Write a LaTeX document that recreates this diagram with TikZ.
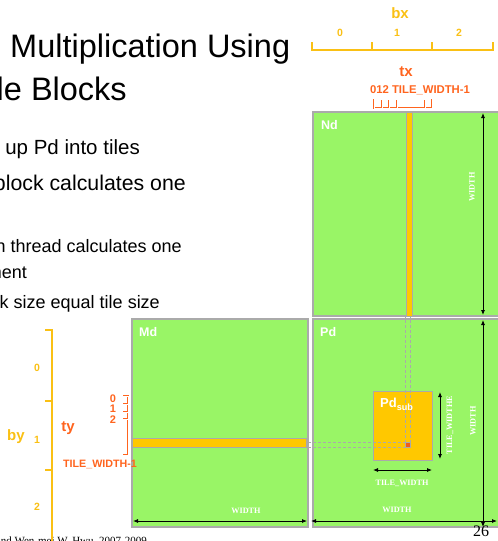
\documentclass[tikz,border=0pt]{standalone}
\usepackage{fontspec}
\setmainfont{Liberation Serif}
\setsansfont{Liberation Sans}
\usetikzlibrary{arrows.meta}

\definecolor{matgreen}{RGB}{153,245,102}
\definecolor{tileorange}{RGB}{255,200,0}
\definecolor{rulegold}{RGB}{250,192,20}
\definecolor{idxorange}{RGB}{255,100,30}
\definecolor{edgegray}{RGB}{170,170,170}
\definecolor{elemred}{RGB}{240,90,30}
\newcommand{\fsz}[1]{\fontsize{#1}{#1}\selectfont}

\tikzset{
  mat/.style={draw=edgegray, fill=matgreen, line width=1.2, inner sep=0, outer sep=0, anchor=north west},
  strip/.style={draw=edgegray, fill=tileorange, line width=0.8, inner sep=0, outer sep=0, anchor=north west},
  matname/.style={text=white, font=\sffamily\bfseries\fsz{12.5}, inner sep=0, anchor=north west},
  dimlabel/.style={text=white, font=\rmfamily\bfseries\fsz{8.2}, inner sep=0},
  dimarrow/.style={black, line width=0.8, {Latex[length=5pt,width=4pt]}-{Latex[length=5pt,width=4pt]}},
  guide/.style={draw=edgegray, dash pattern=on 3pt off 2pt, line width=0.6},
  goldrule/.style={draw=rulegold, line width=1.8},
  goldlabel/.style={text=rulegold, font=\sffamily\bfseries\fsz{10.5}, inner sep=0},
  orangerule/.style={draw=idxorange, line width=0.7, double=white, double distance=0.7},
  orangelabel/.style={text=idxorange, font=\sffamily\bfseries\fsz{11}, inner sep=0},
  bodytext/.style={font=\sffamily\fsz{20.5}, inner sep=0, anchor=base east},
  subtext/.style={font=\sffamily\fsz{18}, inner sep=0, anchor=base east},
}

\begin{document}
\begin{tikzpicture}[x=1pt, y=-1pt]
\useasboundingbox (0,0) rectangle (498,541);

% ---- slide title and bullets
\node[font=\sffamily\fsz{32.5}, inner sep=0, anchor=base west] (title1) at (10,57) {Multiplication Using};
\node[font=\sffamily\fsz{32.5}, inner sep=0, anchor=base east] (title2) at (127,100) {Multiple Blocks};
\node[bodytext] (b1) at (140,154) {Break up Pd into tiles};
\node[bodytext, font=\sffamily\fsz{21.3}] (b2) at (186,190) {block calculates one};
\node[subtext] (s1) at (182,252) {Each thread calculates one};
\node[subtext] (s2) at (27,278) {element};
\node[subtext] (s3) at (160,308) {Block size equal tile size};
\node[font=\rmfamily\fsz{11}, inner sep=0, anchor=base east] (credit) at (147,544) {and Wen-mei W. Hwu, 2007-2009};

% ---- the three matrices
\node[mat, minimum width=186, minimum height=204] (Nd) at (313,112) {};
\node[mat, minimum width=176, minimum height=208] (Md) at (132,319) {};
\node[mat, minimum width=186, minimum height=208] (Pd) at (313,319) {};

% ---- row strip, column strip, output tile and element
\node[strip, minimum width=5.5, minimum height=204] (Ncol) at (406.5,112) {};
\node[strip, minimum width=174, minimum height=9] (Mrow) at (132,438) {};
\node[strip, minimum width=59, minimum height=69] (Psub) at (373,391) {};
\node[draw=edgegray, fill=elemred, line width=0.5, inner sep=0, outer sep=0, anchor=north west,
      minimum width=5, minimum height=5] (elem) at (405.5,442.5) {};

% ---- guide lines from the element back to its row and column
\draw[guide] (elem.north west) -- (elem.north west |- Ncol.south);
\draw[guide] (elem.north east) -- (elem.north east |- Ncol.south);
\draw[guide] (elem.north west) -- (elem.north west -| Mrow.east);
\draw[guide] (elem.south west) -- (elem.south west -| Mrow.east);

% ---- matrix names
\node[matname] (Ndname) at (321,120) {Nd};
\node[matname] (Mdname) at (139,327) {Md};
\node[matname] (Pdname) at (320,327) {Pd};
\node[text=white, font=\sffamily\bfseries\fsz{13}, inner sep=0, anchor=north west] (Psubname) at (380,398) {Pd\textsubscript{sub}};

% ---- dimension arrows
\coordinate (ndTop) at (483,113);   \coordinate (ndBot) at (483,315);
\coordinate (pdTop) at (483,320);   \coordinate (pdBot) at (483,527);
\coordinate (pdL)   at (311,521);   \coordinate (pdR)   at (497,521);
\coordinate (mdL)   at (133,521);   \coordinate (mdR)   at (307,521);
\coordinate (tvTop) at (440,392);   \coordinate (tvBot) at (440,459);
\coordinate (thL)   at (373,470);   \coordinate (thR)   at (432,470);
\draw[dimarrow] (ndTop) -- (ndBot);
\draw[dimarrow] (pdTop) -- (pdBot);
\draw[dimarrow] (pdL) -- (pdR);
\draw[dimarrow] (mdL) -- (mdR);
\draw[dimarrow] (tvTop) -- (tvBot);
\draw[dimarrow] (thL) -- (thR);

\node[dimlabel, rotate=90] (ndW) at (472,187) {WIDTH};
\node[dimlabel, rotate=90] (pdWv) at (473,421) {WIDTH};
\node[dimlabel] (pdWh) at (397,510) {WIDTH};
\node[dimlabel] (mdW) at (246,511) {WIDTH};
\node[dimlabel] (tW) at (402,483) {TILE\_WIDTH};
\node[dimlabel, rotate=90] (tWv) at (450,425) {TILE\_WIDTHE};

% ---- block index bx
\draw[goldrule] (312,42) -- (312,50) -- (493,50) -- (493,42);
\draw[goldrule] (372,42) -- (372,50);
\draw[goldrule] (432,42) -- (432,50);
\node[goldlabel, font=\sffamily\bfseries\fsz{15}] (bx) at (400,13) {bx};
\node[goldlabel] (bx0) at (340,33) {0};
\node[goldlabel] (bx1) at (397,33) {1};
\node[goldlabel] (bx2) at (459,33) {2};

% ---- thread index tx
\draw[orangerule] (374,99) -- (374,108) -- (432,108) -- (432,99);
\foreach \tk in {382,389,397,425} \draw[orangerule] (\tk,100) -- (\tk,108);
\node[orangelabel, font=\sffamily\bfseries\fsz{15}] (tx) at (406,72) {tx};
\node[orangelabel, font=\sffamily\bfseries\fsz{11.3}] (txr) at (420,90) {012 TILE\_WIDTH-1};

% ---- block index by
\draw[goldrule] (45,330) -- (52,330) -- (52,545);
\draw[goldrule] (45,401) -- (52,401);
\draw[goldrule] (45,470) -- (52,470);
\node[goldlabel, font=\sffamily\bfseries\fsz{15}] (by) at (16,437) {by};
\node[goldlabel] (by0) at (37,368) {0};
\node[goldlabel] (by1) at (37,440) {1};
\node[goldlabel] (by2) at (37,507) {2};

% ---- thread index ty
\draw[orangerule] (123,396) -- (128,396) -- (128,455) -- (123,455);
\foreach \tk in {404,412,419} \draw[orangerule] (123,\tk) -- (128,\tk);
\node[orangelabel, font=\sffamily\bfseries\fsz{15}] (ty) at (68,428) {ty};
\node[orangelabel] (ty0) at (113,399) {0};
\node[orangelabel] (ty1) at (113,409) {1};
\node[orangelabel] (ty2) at (113,420) {2};
\node[orangelabel, font=\sffamily\bfseries\fsz{10.7}] (tyl) at (100,464) {TILE\_WIDTH-1};

% ---- page number
\node[font=\rmfamily\fsz{16}, inner sep=0, anchor=north] (page) at (481,526) {26};
\end{tikzpicture}
\end{document}
